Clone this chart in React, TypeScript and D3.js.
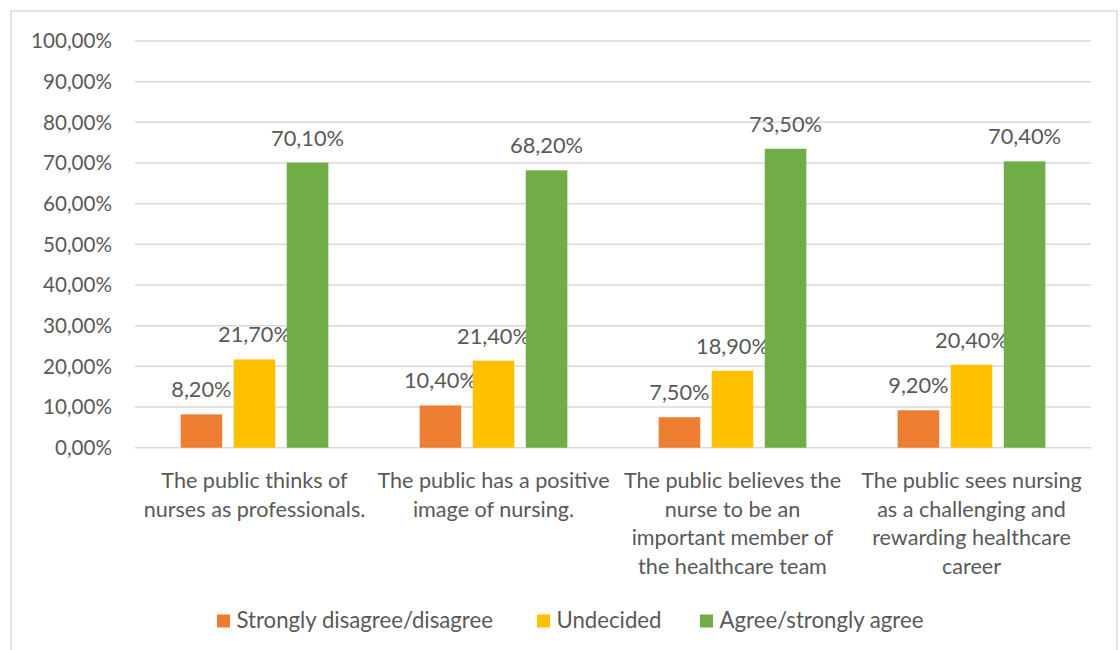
import React from "react";
import * as d3 from "d3";

const categories: string[][] = [
  ["The public thinks of", "nurses as professionals."],
  ["The public has a positive", "image of nursing."],
  ["The public believes the", "nurse to be an", "important member of", "the healthcare team"],
  ["The public sees nursing", "as a challenging and", "rewarding healthcare", "career"],
];
const seriesNames = ["Strongly disagree/disagree", "Undecided", "Agree/strongly agree"];
const disagree = [8.2, 10.4, 7.5, 9.2];
const undecided = [21.7, 21.4, 18.9, 20.4];
const agree = [70.1, 68.2, 73.5, 70.4];
const yTicks = [0, 10, 20, 30, 40, 50, 60, 70, 80, 90, 100];
const colors = ["#ED7D31", "#FFC000", "#70AD47"];

const W = 1120;
const H = 650;
const FONT = "Lato, 'Open Sans', sans-serif";
const TXT = "#595959";

export default function App() {
  const series = [disagree, undecided, agree];
  const x = d3.scaleBand<number>().domain(d3.range(categories.length)).range([135, 1091]).padding(0);
  const y = d3.scaleLinear().domain([0, 100]).range([447.7, 41]);
  const bw = x.bandwidth();
  const barW = bw * 0.174;
  const pitch = bw * 0.222;
  const fmt = (v: number) => v.toFixed(2).replace(".", ",") + "%";

  const legendX = [217, 537, 700];

  return (
    <svg width={W} height={H} style={{ position: "absolute", left: 0, top: 0, background: "#fff" }} fontFamily={FONT}>
      <rect x={0} y={0} width={W} height={H} fill="#fff" />
      <rect x={11} y={11} width={1106} height={660} fill="#fff" stroke="#d9d9d9" strokeWidth={1.5} />
      {yTicks.map((t) => (
        <g key={t}>
          <line x1={135} x2={1091} y1={y(t)} y2={y(t)} stroke="#d9d9d9" strokeWidth={1.5} />
          <text x={112} y={y(t)} dy="0.35em" textAnchor="end" fontSize={20.6} fill={TXT}>
            {fmt(t)}
          </text>
        </g>
      ))}
      {categories.map((cat, i) => {
        const cx = (x(i) as number) + bw / 2;
        return (
          <g key={i}>
            {series.map((s, j) => {
              const bx = cx + (j - 1) * pitch - barW / 2;
              return (
                <g key={j}>
                  <rect x={bx} y={y(s[i])} width={barW} height={y(0) - y(s[i])} fill={colors[j]} />
                  <text x={bx + barW / 2} y={y(s[i]) - 17} textAnchor="middle" fontSize={21.8} fill={TXT}>
                    {fmt(s[i])}
                  </text>
                </g>
              );
            })}
            {cat.map((line, k) => (
              <text key={k} x={cx} y={488 + k * 28.7} textAnchor="middle" fontSize={21.6} fill={TXT}>
                {line}
              </text>
            ))}
          </g>
        );
      })}
      {seriesNames.map((n, j) => (
        <g key={n}>
          <rect x={legendX[j]} y={614.5} width={13} height={13} fill={colors[j]} />
          <text x={legendX[j] + 19.5} y={628} fontSize={22.2} fill={TXT}>
            {n}
          </text>
        </g>
      ))}
    </svg>
  );
}
